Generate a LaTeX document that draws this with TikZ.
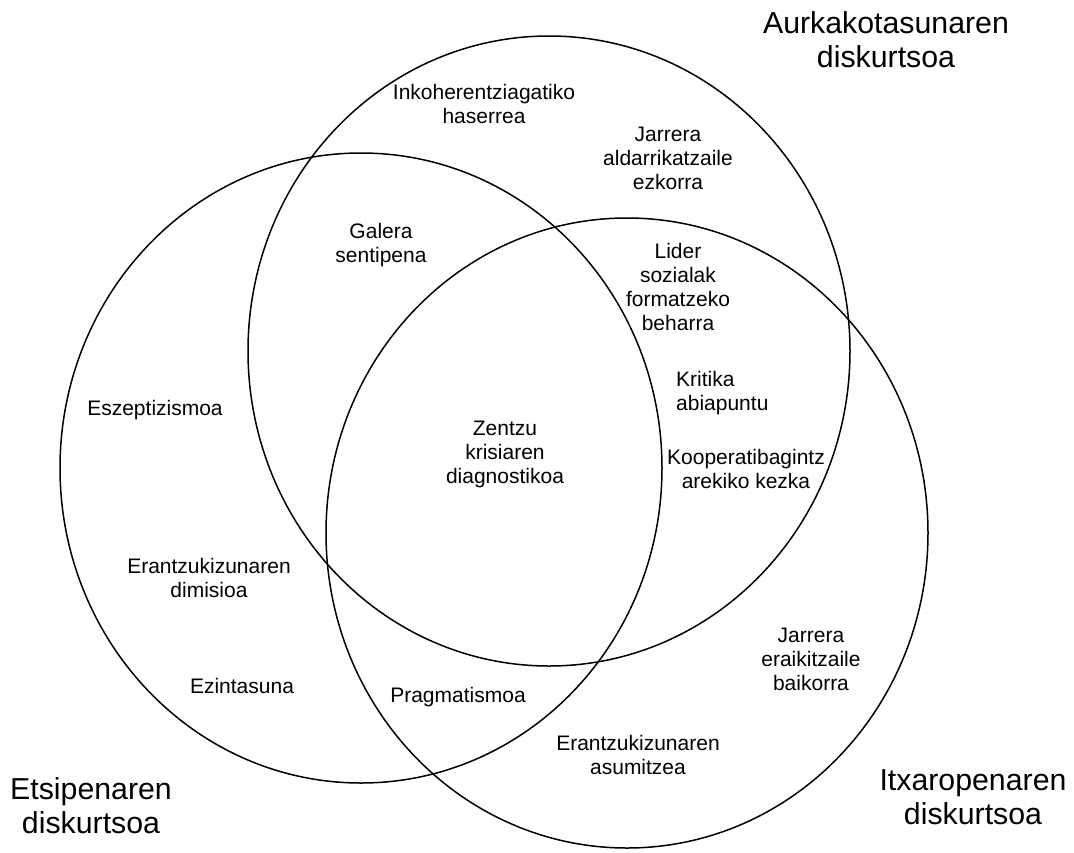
\documentclass[tikz,border=0pt]{standalone}
\usepackage{fontspec}
\setmainfont{Liberation Sans}
\usetikzlibrary{shapes.geometric}
\begin{document}
\begin{tikzpicture}[x=1pt,y=-1pt,
  ring/.style={draw=black, line width=1.5pt, ellipse, inner sep=0pt, minimum width=602pt, minimum height=630pt},
  lbl/.style={font=\fontsize{21}{24}\selectfont, align=center, anchor=base, inner sep=0pt},
  big/.style={font=\fontsize{30.3}{34}\selectfont, align=center, anchor=base, inner sep=0pt}]
\useasboundingbox (0,0) rectangle (1074,852);
% three sets
\node[ring] (aurk) at (549,351) {};
\node[ring] (etsi) at (361,468) {};
\node[ring] (itxa) at (627,533) {};
% set titles (anchor = baseline of last line)
\node[big] (taurk) at (886,67) {Aurkakotasunaren\\diskurtsoa};
\node[big] (tetsi) at (91,833) {Etsipenaren\\diskurtsoa};
\node[big] (titxa) at (973,824) {Itxaropenaren\\diskurtsoa};
% labels (anchor = baseline of last line)
\node[lbl] (inko) at (484,123) {Inkoherentziagatiko\\haserrea};
\node[lbl] (jarez) at (668,189) {Jarrera\\aldarrikatzaile\\ezkorra};
\node[lbl] (gal) at (381,262) {Galera\\sentipena};
\node[lbl] (lider) at (678,330) {Lider\\sozialak\\formatzeko\\beharra};
\node[lbl, align=left, anchor=base west] (krit) at (676,410) {Kritika\\abiapuntu};
\node[lbl] (koop) at (746,488) {Kooperatibagintz\\arekiko kezka};
\node[lbl] (zentzu) at (505,483) {Zentzu\\krisiaren\\diagnostikoa};
\node[lbl] (eszep) at (155,415) {Eszeptizismoa};
\node[lbl] (dimi) at (209,597) {Erantzukizunaren\\dimisioa};
\node[lbl] (ezin) at (242,693) {Ezintasuna};
\node[lbl] (prag) at (458,702) {Pragmatismoa};
\node[lbl] (asum) at (638,774) {Erantzukizunaren\\asumitzea};
\node[lbl] (jarba) at (811,690) {Jarrera\\eraikitzaile\\baikorra};
\end{tikzpicture}
\end{document}
